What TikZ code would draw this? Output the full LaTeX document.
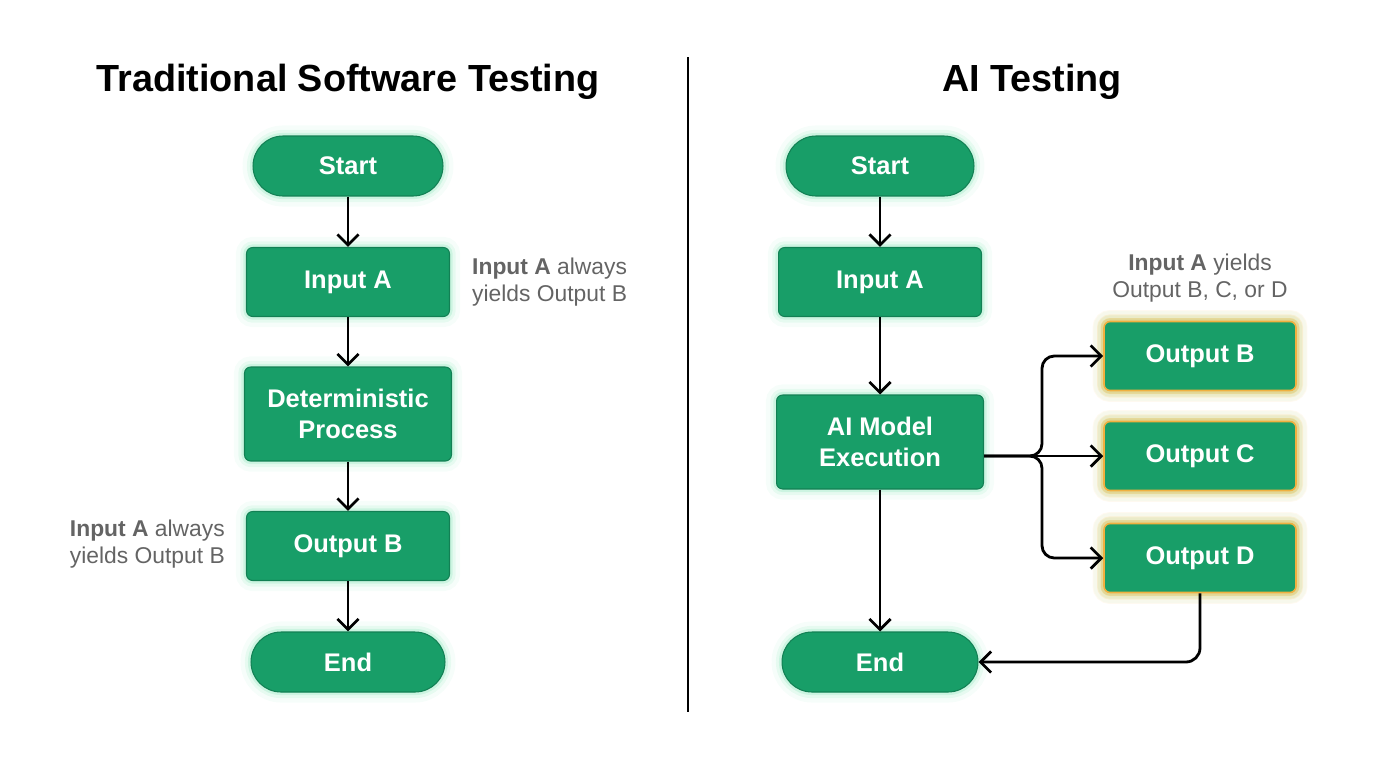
\documentclass[tikz,border=0pt]{standalone}
\usepackage{fontspec}
\setmainfont{Liberation Sans}
\usetikzlibrary{arrows.meta}

\definecolor{boxgreen}{RGB}{24,158,104}
\definecolor{boxedge}{RGB}{18,128,84}
\definecolor{glowgreen}{RGB}{110,225,170}
\definecolor{amber}{RGB}{240,176,64}
\definecolor{glowamber}{RGB}{255,178,50}
\definecolor{notegray}{RGB}{100,100,100}

\tikzset{
  box/.style={draw=boxedge,fill=boxgreen,rounded corners=3.5pt,line width=0.6pt,
    text=white,align=center,font=\bfseries\fontsize{14.5}{18}\selectfont,
    preaction={draw=glowgreen,line width=12pt,opacity=0.06},
    preaction={draw=glowgreen,line width=7pt,opacity=0.12},
    preaction={draw=glowgreen,line width=3.5pt,opacity=0.22}},
  term/.style={box,rounded corners=0.6cm,minimum height=1.2cm},
  outbox/.style={box,draw=amber,line width=0.9pt,minimum width=3.84cm,minimum height=1.38cm,
    preaction={draw=glowamber,line width=13pt,opacity=0.07},
    preaction={draw=glowamber,line width=8pt,opacity=0.14},
    preaction={draw=glowamber,line width=4pt,opacity=0.28}},
  note/.style={text=notegray,font=\fontsize{13}{15.3}\selectfont},
  title/.style={font=\bfseries\fontsize{21.5}{25}\selectfont},
  arr/.style={-{Straight Barb[length=6pt,width=12pt]},line width=1.6pt},
}

\begin{document}
\begin{tikzpicture}[x=0.02cm,y=-0.02cm]
  \useasboundingbox (0,0) rectangle (1376,768);

  % titles and divider
  \node[title] (titletrad) at (348,82) {Traditional Software Testing};
  \node[title] (titleai) at (1032,82) {AI Testing};
  \draw[line width=1.4pt] (688,57) -- (688,712);

  % traditional flow
  \node[term,minimum width=3.8cm] (tstart) at (348,166) {Start};
  \node[box,minimum width=4.06cm,minimum height=1.38cm] (tinput) at (348,282) {Input A};
  \node[box,minimum width=4.14cm,minimum height=1.88cm] (tproc) at (348,414) {Deterministic\\Process};
  \node[box,minimum width=4.06cm,minimum height=1.38cm] (toutb) at (348,546) {Output B};
  \node[term,minimum width=3.88cm] (tend) at (348,662) {End};

  \node[note,anchor=west,align=left] (tnoteone) at (466,282)
    {\textbf{Input A} always\\yields Output B};
  \node[note,anchor=east,align=right] (tnotetwo) at (231,544)
    {\textbf{Input A} always\\yields Output B};

  \draw[arr] (tstart.south) -- (tinput.north);
  \draw[arr] (tinput.south) -- (tproc.north);
  \draw[arr] (tproc.south) -- (toutb.north);
  \draw[arr] (toutb.south) -- (tend.north);

  % AI flow
  \node[term,minimum width=3.76cm] (astart) at (880,166) {Start};
  \node[box,minimum width=4.06cm,minimum height=1.38cm] (ainput) at (880,282) {Input A};
  \node[box,minimum width=4.14cm,minimum height=1.88cm] (amodel) at (880,442) {AI Model\\Execution};
  \node[term,minimum width=3.92cm] (aend) at (880,662) {End};

  \node[outbox] (outb) at (1200,356) {Output B};
  \node[outbox] (outc) at (1200,456) {Output C};
  \node[outbox] (outd) at (1200,558) {Output D};

  \node[note,align=center] (anote) at (1200,278)
    {\textbf{Input A} yields\\Output B, C, or D};

  \coordinate (fork) at (1042,456);

  \draw[arr] (amodel.east |- outc.west) -- (outc.west);
  \draw[arr] (astart.south) -- (ainput.north);
  \draw[arr] (ainput.south) -- (amodel.north);
  \draw[arr,rounded corners=7pt] (amodel.east |- outc.west) -- (fork) -- (fork |- outb.west) -- (outb.west);
  \draw[arr,rounded corners=7pt] (amodel.east |- outc.west) -- (fork) -- (fork |- outd.west) -- (outd.west);
  \draw[arr] (amodel.south) -- (aend.north);
  \draw[arr,rounded corners=8pt] (outd.south) |- (aend.east);
\end{tikzpicture}
\end{document}
